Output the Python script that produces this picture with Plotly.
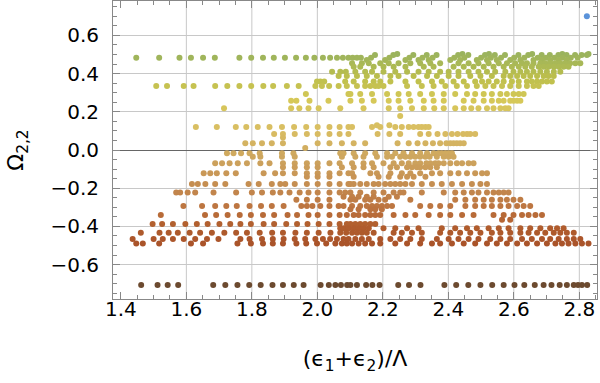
import plotly.graph_objects as go

# (eps1+eps2)/Lambda values, one list per Omega_{2,2} level
x_p503 = [2.244, 2.443, 2.524, 2.656, 2.748, 2.828]
x_p497 = [2.176, 2.232, 2.293, 2.334, 2.364, 2.430, 2.461, 2.512, 2.542, 2.573, 2.614, 2.644,
          2.685, 2.710, 2.736, 2.761, 2.787, 2.807, 2.823]
x_p483 = [1.447, 1.517, 1.579, 1.614, 1.651, 1.687, 1.762, 1.798, 1.834, 1.867, 1.901, 1.935,
          1.965, 1.991, 2.017, 2.039, 2.060, 2.078, 2.095, 2.108, 2.121, 2.133, 2.164, 2.220,
          2.281, 2.321, 2.352, 2.418, 2.449, 2.500, 2.530, 2.561, 2.601, 2.632, 2.673, 2.698,
          2.724, 2.749, 2.774, 2.795]
x_p471 = [2.151, 2.207, 2.269, 2.309, 2.340, 2.406, 2.436, 2.487, 2.518, 2.548, 2.589, 2.620,
          2.660, 2.686, 2.711, 2.737, 2.762]
x_p454 = [2.106, 2.136, 2.157, 2.192, 2.218, 2.248, 2.284, 2.314, 2.345, 2.375, 2.431, 2.462,
          2.492, 2.523, 2.554, 2.579, 2.604, 2.625, 2.640, 2.660, 2.681, 2.696, 2.711, 2.727,
          2.742, 2.757, 2.772, 2.788, 2.803]
x_p436 = [2.111, 2.131, 2.172, 2.202, 2.233, 2.269, 2.325, 2.355, 2.416, 2.447, 2.477, 2.508,
          2.538, 2.569, 2.594, 2.615, 2.635, 2.655, 2.676, 2.691, 2.706, 2.722, 2.737, 2.752, 2.767]
x_p410 = [2.045, 2.070, 2.087, 2.116, 2.146, 2.167, 2.202, 2.238, 2.274, 2.309, 2.340, 2.375,
          2.401, 2.431, 2.462, 2.492, 2.518, 2.543, 2.574, 2.599, 2.620, 2.640, 2.660, 2.681,
          2.701, 2.722, 2.742]
x_p387 = [2.065, 2.090, 2.121, 2.151, 2.182, 2.223, 2.248, 2.294, 2.335, 2.365, 2.401, 2.431,
          2.467, 2.498, 2.533, 2.569, 2.589, 2.610, 2.630, 2.650, 2.671, 2.691, 2.706, 2.722]
x_p358 = [1.999, 2.009, 2.021, 2.085, 2.111, 2.146, 2.172, 2.192, 2.223, 2.269, 2.309, 2.350,
          2.380, 2.416, 2.447, 2.482, 2.503, 2.523, 2.548, 2.569, 2.594, 2.615, 2.640, 2.655,
          2.671, 2.686, 2.701, 2.716]
x_p335 = [1.508, 1.541, 1.592, 1.622, 1.688, 1.725, 1.762, 1.798, 1.835, 1.865, 1.907, 1.943,
          1.994, 2.014, 2.036, 2.065, 2.090, 2.121, 2.146, 2.162, 2.177, 2.187, 2.202, 2.274,
          2.319, 2.355, 2.391, 2.426, 2.457, 2.487, 2.513, 2.538, 2.564, 2.589, 2.615, 2.640,
          2.660, 2.676]
x_p293 = [1.965, 2.095, 2.101, 2.131, 2.167, 2.213, 2.248, 2.279, 2.314, 2.350, 2.386, 2.421,
          2.457, 2.482, 2.508, 2.533, 2.559, 2.579, 2.599, 2.615, 2.630]
x_p258 = [1.920, 1.936, 1.976, 2.034, 2.101, 2.136, 2.172, 2.218, 2.248, 2.284, 2.325, 2.355,
          2.386, 2.447, 2.477, 2.508, 2.533, 2.554, 2.569, 2.589, 2.599, 2.610, 2.620]
x_p218 = [1.715, 1.920, 1.945, 1.973, 2.004, 2.070, 2.141, 2.218, 2.253, 2.289, 2.325, 2.357,
          2.386, 2.421, 2.447, 2.470, 2.492, 2.518, 2.538, 2.559, 2.574, 2.584]
x_p178 = [2.253]
x_p130 = [2.182, 2.220]
x_p120 = [1.629, 1.693, 1.751, 1.783, 1.818, 1.854, 1.892, 1.929, 1.966, 2.001, 2.037, 2.068,
          2.095, 2.106, 2.167, 2.192, 2.238, 2.258, 2.279, 2.294, 2.309, 2.319, 2.330, 2.340]
x_p084 = [1.868, 1.895, 1.931, 1.968, 2.001, 2.037, 2.068, 2.095, 2.184, 2.220, 2.253, 2.314,
          2.340, 2.367, 2.391, 2.411, 2.428, 2.445, 2.457, 2.467, 2.482]
x_p066 = [1.895]
x_p035 = [1.780, 1.803, 1.831, 1.861, 1.895, 2.001, 2.037, 2.075, 2.111, 2.146, 2.245, 2.279,
          2.306, 2.330, 2.353, 2.375, 2.394, 2.406, 2.416, 2.426, 2.436, 2.447]
x_p010 = [1.963]
x_m017 = [1.724, 1.744, 1.767, 1.793, 1.824, 1.892, 1.927, 2.070, 2.080, 2.111, 2.146, 2.177,
          2.213, 2.238, 2.263, 2.289, 2.314, 2.335, 2.355, 2.370, 2.380, 2.391, 2.401, 2.411]
x_m035 = [1.803, 1.826, 1.892, 1.931, 2.075, 2.116, 2.141, 2.182, 2.213, 2.228, 2.253, 2.269,
          2.284, 2.299, 2.314, 2.330, 2.343, 2.365, 2.386, 2.401, 2.416]
x_m070 = [1.688, 1.709, 1.732, 1.757, 1.785, 1.826, 1.854, 1.895, 1.931, 1.968, 2.001, 2.037,
          2.068, 2.106, 2.141, 2.167, 2.202, 2.233, 2.258, 2.279, 2.299, 2.314, 2.333, 2.345,
          2.360, 2.370, 2.386, 2.406, 2.426, 2.442, 2.462, 2.477]
x_m090 = [1.895, 1.931, 1.968, 2.001, 2.075, 2.111, 2.141, 2.172, 2.223, 2.243, 2.274, 2.289,
          2.304, 2.314, 2.330, 2.345, 2.365]
x_m122 = [1.653, 1.673, 1.693, 1.722, 1.751, 1.836, 1.871, 1.895, 1.931, 1.968, 2.001, 2.037,
          2.068, 2.095, 2.106, 2.162, 2.182, 2.223, 2.258, 2.284, 2.314, 2.350, 2.375, 2.406,
          2.431, 2.457, 2.482, 2.503, 2.518]
x_m140 = [1.968, 2.001, 2.037, 2.111, 2.187, 2.218, 2.253, 2.274, 2.294, 2.330]
x_m178 = [1.617, 1.635, 1.658, 1.688, 1.719, 1.790, 1.821, 1.861, 1.887, 1.902, 1.931, 1.968,
          2.001, 2.037, 2.068, 2.095, 2.101, 2.111, 2.131, 2.151, 2.172, 2.187, 2.207, 2.223,
          2.238, 2.253, 2.269, 2.289, 2.319, 2.350, 2.380, 2.411, 2.442, 2.472, 2.498, 2.518]
x_m223 = [1.569, 1.581, 1.604, 1.627, 1.683, 1.752, 1.800, 1.831, 1.864, 1.887, 1.915, 1.946,
          1.973, 2.001, 2.037, 2.068, 2.085, 2.101, 2.131, 2.172, 2.202, 2.233, 2.253, 2.263,
          2.319, 2.386, 2.421, 2.447, 2.472, 2.492, 2.518, 2.538, 2.554, 2.569, 2.584]
x_m245 = [2.080, 2.106, 2.126, 2.151, 2.172, 2.218, 2.243]
x_m260 = [1.936, 1.968, 2.001, 2.037, 2.101, 2.116, 2.146, 2.162, 2.187, 2.207, 2.284, 2.421,
          2.452, 2.482, 2.508, 2.533, 2.559, 2.579, 2.599, 2.620]
x_m293 = [1.591, 1.648, 1.688, 1.722, 1.754, 1.793, 1.828, 1.861, 1.897, 1.951, 1.968, 1.985,
          2.009, 2.037, 2.065, 2.080, 2.106, 2.131, 2.151, 2.167, 2.182, 2.197, 2.213, 2.228,
          2.314, 2.345, 2.375, 2.406, 2.452, 2.482, 2.508, 2.533, 2.559, 2.584, 2.610, 2.630, 2.650]
x_m310 = [2.101, 2.126, 2.162, 2.177, 2.197]
x_m340 = [1.522, 1.657, 1.691, 1.726, 1.763, 1.797, 1.834, 1.868, 1.909, 1.938, 1.973, 2.001,
          2.037, 2.068, 2.090, 2.111, 2.126, 2.146, 2.162, 2.177, 2.192, 2.233, 2.269, 2.299,
          2.340, 2.375, 2.406, 2.442, 2.477, 2.538, 2.569, 2.599, 2.625, 2.645, 2.666, 2.686]
x_m365 = [2.564, 2.589]
x_m387 = [1.497, 1.526, 1.559, 1.597, 1.632, 1.665, 1.701, 1.734, 1.765, 1.797, 1.836, 1.868,
          1.905, 1.938, 1.970, 2.004, 2.037, 2.068, 2.090, 2.101, 2.116, 2.131, 2.146, 2.162, 2.177]
x_m410 = [2.070, 2.080, 2.095, 2.111, 2.126, 2.141, 2.157, 2.202, 2.238, 2.274, 2.309, 2.380,
          2.421, 2.457, 2.487, 2.523, 2.554, 2.584, 2.620, 2.650, 2.681, 2.711, 2.732, 2.752]
x_m433 = [1.461, 1.518, 1.546, 1.574, 1.610, 1.642, 1.678, 1.716, 1.752, 1.785, 1.824, 1.862,
          1.895, 1.933, 1.968, 2.004, 2.040, 2.070, 2.088, 2.106, 2.121, 2.136, 2.151, 2.172,
          2.233, 2.258, 2.289, 2.319, 2.375, 2.406, 2.436, 2.467, 2.498, 2.533, 2.559, 2.589,
          2.620, 2.645, 2.671, 2.696, 2.722, 2.742, 2.762, 2.783]
x_m466 = [1.436, 1.500, 1.528, 1.559, 1.592, 1.627, 1.663, 1.698, 1.765, 1.793, 1.831, 1.864,
          1.897, 1.931, 1.963, 1.994, 2.017, 2.039, 2.060, 2.080, 2.095, 2.116, 2.136, 2.157,
          2.192, 2.223, 2.253, 2.284, 2.319, 2.365, 2.401, 2.431, 2.462, 2.492, 2.528, 2.559,
          2.589, 2.625, 2.655, 2.686, 2.711, 2.737, 2.762, 2.783, 2.803]
x_m489 = [1.447, 1.467, 1.517, 1.614, 1.651, 1.756, 1.797, 1.834, 1.864, 1.895, 1.936, 1.966,
          1.999, 2.027, 2.055, 2.075, 2.090, 2.106, 2.126, 2.146, 2.167, 2.192, 2.238, 2.274,
          2.314, 2.350, 2.375, 2.411, 2.447, 2.482, 2.518, 2.548, 2.579, 2.610, 2.640, 2.671,
          2.701, 2.727, 2.747, 2.767, 2.788, 2.808, 2.828]
x_m707 = [1.462, 1.512, 1.543, 1.575, 1.682, 1.719, 1.756, 1.792, 1.827, 1.863, 1.895, 1.928,
          1.958, 2.010, 2.035, 2.055, 2.072, 2.091, 2.101, 2.121, 2.149, 2.168, 2.190, 2.247,
          2.280, 2.315, 2.388, 2.424, 2.461, 2.498, 2.534, 2.569, 2.602, 2.632, 2.664, 2.691,
          2.715, 2.740, 2.762, 2.783, 2.796, 2.808, 2.824]

rows = [
    (0.503, x_p503), (0.497, x_p497), (0.483, x_p483), (0.471, x_p471), (0.454, x_p454),
    (0.436, x_p436), (0.410, x_p410), (0.387, x_p387), (0.358, x_p358), (0.335, x_p335),
    (0.293, x_p293), (0.258, x_p258), (0.218, x_p218), (0.178, x_p178), (0.130, x_p130),
    (0.120, x_p120), (0.084, x_p084), (0.066, x_p066), (0.035, x_p035), (0.010, x_p010),
    (-0.017, x_m017), (-0.035, x_m035), (-0.070, x_m070), (-0.090, x_m090), (-0.122, x_m122),
    (-0.140, x_m140), (-0.178, x_m178), (-0.223, x_m223), (-0.245, x_m245), (-0.260, x_m260),
    (-0.293, x_m293), (-0.310, x_m310), (-0.340, x_m340), (-0.365, x_m365), (-0.387, x_m387),
    (-0.410, x_m410), (-0.433, x_m433), (-0.466, x_m466), (-0.489, x_m489), (-0.707, x_m707),
]

# lone point in the second series
x_extra = [2.823]
y_extra = [0.700]

xs, ys = [], []
for yv, xl in rows:
    xs += xl
    ys += [yv] * len(xl)

cscale = [
    [0.0, "#6b4a2f"], [0.173, "#a9532a"], [0.256, "#b15d2d"], [0.338, "#bc7440"],
    [0.42, "#c48a4f"], [0.544, "#cda45e"], [0.668, "#d9be63"], [0.80, "#d6c858"],
    [0.90, "#bcbf4c"], [1.0, "#9ab35e"],
]

fig = go.Figure()
fig.add_trace(go.Scatter(
    x=xs, y=ys, mode="markers",
    marker=dict(size=6, color=ys, colorscale=cscale, cmin=-0.71, cmax=0.503,
                line=dict(width=0)),
    showlegend=False,
))
fig.add_trace(go.Scatter(
    x=x_extra, y=y_extra, mode="markers",
    marker=dict(size=6, color="#5b93da", line=dict(width=0)),
    showlegend=False,
))

# vertical grid lines (none at 1.4 in the original)
for gx in [1.6, 1.8, 2.0, 2.2, 2.4, 2.6, 2.8]:
    fig.add_shape(type="line", x0=gx, x1=gx, y0=0, y1=1, xref="x", yref="paper",
                  line=dict(color="#c8c8c8", width=1), layer="below")

font = dict(family="DejaVu Sans, sans-serif", size=20, color="black")
tfont = dict(family="DejaVu Sans, sans-serif", size=22, color="black")

fig.update_xaxes(
    range=[1.376, 2.854], tickvals=[1.4, 1.6, 1.8, 2.0, 2.2, 2.4, 2.6, 2.8],
    ticktext=["1.4", "1.6", "1.8", "2.0", "2.2", "2.4", "2.6", "2.8"],
    ticks="inside", ticklen=7, tickcolor="#888", showgrid=False, zeroline=False,
    showline=True, linecolor="#888", linewidth=1, mirror="allticks",
    minor=dict(dtick=0.05, tick0=1.4, ticks="inside", ticklen=4, tickcolor="#888", showgrid=False),
    tickfont=font, ticklabelstandoff=-8,
    title=dict(text="(ϵ<sub>1</sub>+ϵ<sub>2</sub>)/Λ", font=tfont, standoff=30),
)
fig.update_yaxes(
    range=[-0.78, 0.78], tickvals=[-0.6, -0.4, -0.2, 0.0, 0.2, 0.4, 0.6],
    ticktext=["\u22120.6", "\u22120.4", "\u22120.2", "0.0", "0.2", "0.4", "0.6"],
    ticks="inside", ticklen=7, tickcolor="#888", showgrid=True, gridcolor="#c8c8c8", gridwidth=1,
    zeroline=True, zerolinecolor="#666", zerolinewidth=1,
    showline=True, linecolor="#888", linewidth=1, mirror="allticks",
    minor=dict(dtick=0.05, tick0=0, ticks="inside", ticklen=4, tickcolor="#888", showgrid=False),
    tickfont=font, ticklabelstandoff=9,
    title=dict(text="Ω<sub>2,2</sub>", font=tfont, standoff=20),
)
fig.update_layout(
    width=600, height=383, margin=dict(l=113, r=3, t=1, b=84, autoexpand=False),
    plot_bgcolor="white", paper_bgcolor="white",
)

fig.write_html("out.html", config={"displayModeBar": False},
               post_script="document.body.style.margin='0';")
